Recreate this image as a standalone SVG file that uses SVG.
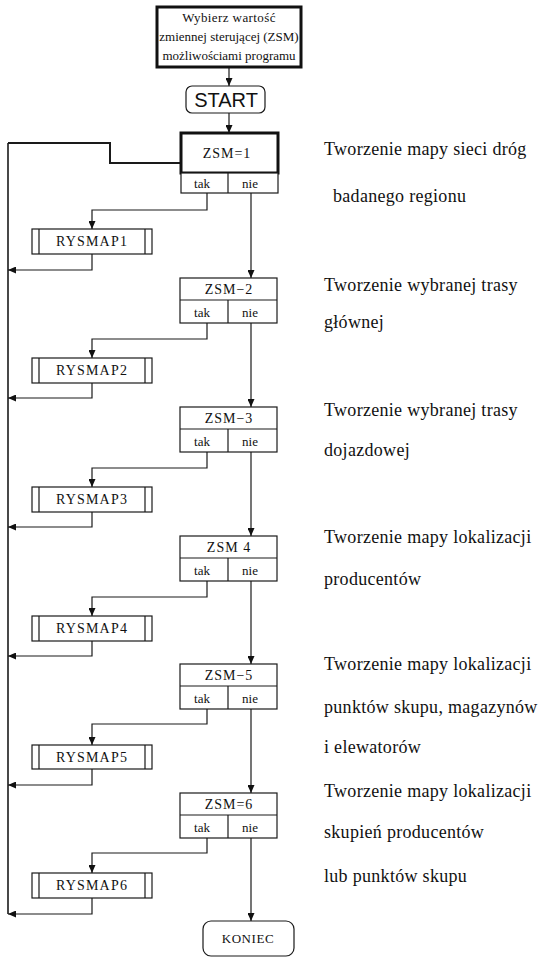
<svg xmlns="http://www.w3.org/2000/svg" width="541" height="958" viewBox="0 0 541 958">
<style>
.bg{fill:#fff}
.box{fill:#fff;stroke:#1a1a1a;stroke-width:1.2}
.thick{fill:#fff;stroke:#111;stroke-width:3}
.ln{fill:none;stroke:#1a1a1a;stroke-width:1.2}
.arr{fill:none;stroke:#1a1a1a;stroke-width:1.2;marker-end:url(#ah)}
.t{font-family:"Liberation Serif","Times New Roman",serif;fill:#111;text-anchor:middle}
.z{font-size:14px;letter-spacing:1px}
.tn{font-size:13px}
.r{font-size:14px;letter-spacing:1.2px}
.d{font-family:"Liberation Serif","Times New Roman",serif;fill:#111;font-size:18px;letter-spacing:0.3px}
</style>
<defs>
<marker id="ah" markerUnits="userSpaceOnUse" markerWidth="8" markerHeight="7" refX="8" refY="3.5" orient="auto">
<path d="M0,0 L8,3.5 L0,7 z" fill="#111"/>
</marker>
</defs>
<rect class="bg" x="0" y="0" width="541" height="958"/>

<g id="connectors">
<path class="arr" d="M229,67 V86"/>
<path class="arr" d="M229,113 V133"/>
<path class="ln" d="M8,914 V143" style="stroke-width:1.6"/>
<path class="ln" d="M8,143 H110 V163 H181" style="stroke-width:2"/>
<!-- k1 -->
<path class="arr" d="M207,193 V210 H92 V229"/>
<path class="arr" d="M92,254 V270 H8"/>
<path class="arr" d="M251,193 V278"/>
<!-- k2 -->
<path class="arr" d="M207,323 V339 H92 V358"/>
<path class="arr" d="M92,383 V398 H8"/>
<path class="arr" d="M251,323 V407"/>
<!-- k3 -->
<path class="arr" d="M207,452 V468 H92 V487"/>
<path class="arr" d="M92,512 V527 H8"/>
<path class="arr" d="M251,452 V536"/>
<!-- k4 -->
<path class="arr" d="M207,581 V597 H92 V616"/>
<path class="arr" d="M92,641 V656 H8"/>
<path class="arr" d="M251,581 V664"/>
<!-- k5 -->
<path class="arr" d="M207,709 V724 H92 V745"/>
<path class="arr" d="M92,769 V785 H8"/>
<path class="arr" d="M251,709 V793"/>
<!-- k6 -->
<path class="arr" d="M207,838 V853 H92 V873"/>
<path class="arr" d="M92,898 V914 H8"/>
<path class="arr" d="M251,838 V921"/>
</g>

<g id="n-select">
<rect class="thick" x="157" y="7" width="144" height="60"/>
<text class="t" x="229" y="22" font-size="13" letter-spacing="0.4">Wybierz wartość</text>
<text class="t" x="229" y="41" font-size="13">zmiennej sterującej (ZSM)</text>
<text class="t" x="229" y="60" font-size="13">możliwościami programu</text>
</g>

<g id="n-start">
<rect class="box" x="186" y="86" width="79" height="27" rx="6"/>
<text x="226" y="107" font-family="Liberation Sans, Arial, sans-serif" font-size="20" fill="#111" text-anchor="middle">START</text>
</g>

<g id="n-zsm1">
<rect class="thick" x="181" y="133" width="97" height="40"/>
<rect class="box" x="181" y="173" width="97" height="20"/>
<path class="ln" d="M228,173 V193"/>
<text class="t z" x="227" y="158">ZSM=1</text>
<text class="t tn" x="202" y="188">tak</text>
<text class="t tn" x="250" y="188">nie</text>
</g>
<g id="n-rys1">
<rect class="box" x="32" y="229" width="120" height="25"/>
<path class="ln" d="M39,229 V254 M145,229 V254"/>
<text class="t r" x="92" y="246">RYSMAP1</text>
</g>

<g id="n-zsm2">
<rect class="box" x="180" y="278" width="97" height="45"/>
<path class="ln" d="M180,300 H277 M228,300 V323"/>
<text class="t z" x="229" y="294">ZSM−2</text>
<text class="t tn" x="202" y="317">tak</text>
<text class="t tn" x="250" y="317">nie</text>
</g>
<g id="n-rys2">
<rect class="box" x="32" y="358" width="120" height="25"/>
<path class="ln" d="M39,358 V383 M145,358 V383"/>
<text class="t r" x="92" y="375">RYSMAP2</text>
</g>

<g id="n-zsm3">
<rect class="box" x="180" y="407" width="97" height="45"/>
<path class="ln" d="M180,429 H277 M228,429 V452"/>
<text class="t z" x="229" y="423">ZSM−3</text>
<text class="t tn" x="202" y="446">tak</text>
<text class="t tn" x="250" y="446">nie</text>
</g>
<g id="n-rys3">
<rect class="box" x="32" y="487" width="120" height="25"/>
<path class="ln" d="M39,487 V512 M145,487 V512"/>
<text class="t r" x="92" y="504">RYSMAP3</text>
</g>

<g id="n-zsm4">
<rect class="box" x="180" y="536" width="97" height="45"/>
<path class="ln" d="M180,558 H277 M228,558 V581"/>
<text class="t z" x="229" y="552">ZSM 4</text>
<text class="t tn" x="202" y="575">tak</text>
<text class="t tn" x="250" y="575">nie</text>
</g>
<g id="n-rys4">
<rect class="box" x="32" y="616" width="120" height="25"/>
<path class="ln" d="M39,616 V641 M145,616 V641"/>
<text class="t r" x="92" y="633">RYSMAP4</text>
</g>

<g id="n-zsm5">
<rect class="box" x="180" y="664" width="97" height="45"/>
<path class="ln" d="M180,686 H277 M228,686 V709"/>
<text class="t z" x="229" y="680">ZSM−5</text>
<text class="t tn" x="202" y="703">tak</text>
<text class="t tn" x="250" y="703">nie</text>
</g>
<g id="n-rys5">
<rect class="box" x="32" y="745" width="120" height="24"/>
<path class="ln" d="M39,745 V769 M145,745 V769"/>
<text class="t r" x="92" y="762">RYSMAP5</text>
</g>

<g id="n-zsm6">
<rect class="box" x="180" y="793" width="97" height="45"/>
<path class="ln" d="M180,815 H277 M228,815 V838"/>
<text class="t z" x="229" y="809">ZSM=6</text>
<text class="t tn" x="202" y="832">tak</text>
<text class="t tn" x="250" y="832">nie</text>
</g>
<g id="n-rys6">
<rect class="box" x="32" y="873" width="120" height="25"/>
<path class="ln" d="M39,873 V898 M145,873 V898"/>
<text class="t r" x="92" y="890">RYSMAP6</text>
</g>

<g id="n-koniec">
<rect class="box" x="203" y="921" width="91" height="35" rx="8"/>
<text class="t" x="248" y="943" font-size="13" letter-spacing="0.6">KONIEC</text>
</g>

<g id="descriptions">
<text class="d" x="324" y="155">Tworzenie mapy sieci dróg</text>
<text class="d" x="333" y="202">badanego regionu</text>
<text class="d" x="324" y="291">Tworzenie wybranej trasy</text>
<text class="d" x="324" y="328">głównej</text>
<text class="d" x="324" y="416">Tworzenie wybranej trasy</text>
<text class="d" x="324" y="456">dojazdowej</text>
<text class="d" x="324" y="543">Tworzenie mapy lokalizacji</text>
<text class="d" x="324" y="585">producentów</text>
<text class="d" x="324" y="670">Tworzenie mapy lokalizacji</text>
<text class="d" x="324" y="713">punktów skupu, magazynów</text>
<text class="d" x="324" y="753">i elewatorów</text>
<text class="d" x="324" y="797">Tworzenie mapy lokalizacji</text>
<text class="d" x="324" y="838">skupień producentów</text>
<text class="d" x="324" y="882">lub punktów skupu</text>
</g>
</svg>
